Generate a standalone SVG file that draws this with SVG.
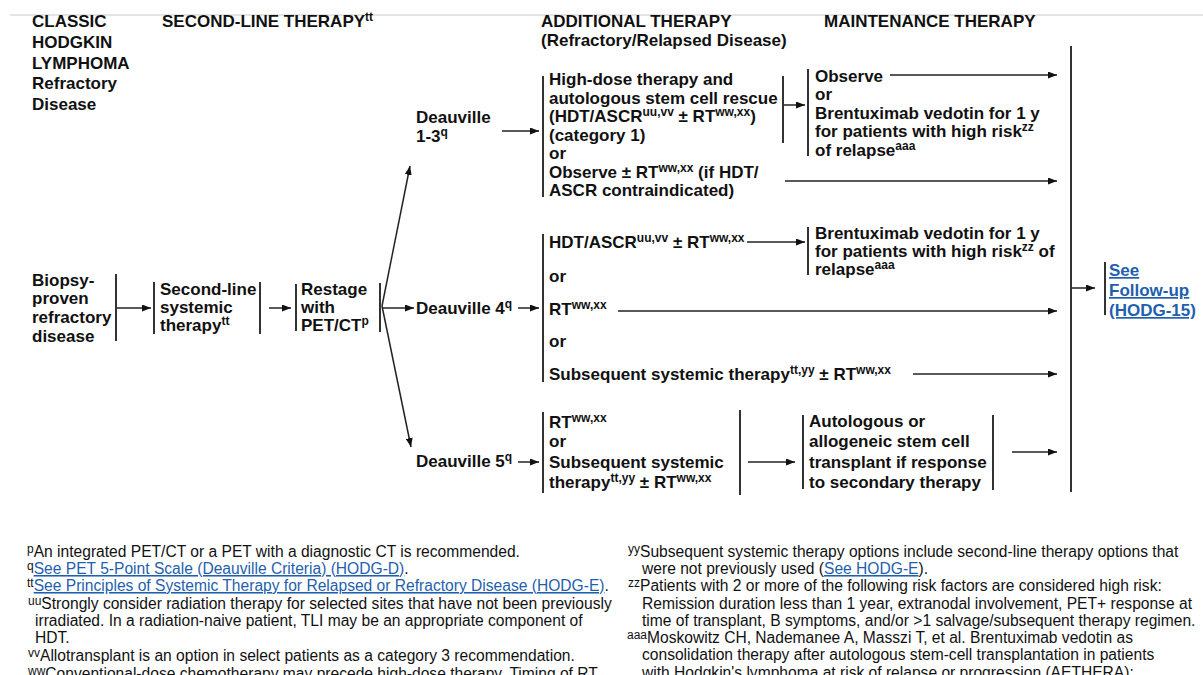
<svg xmlns="http://www.w3.org/2000/svg" width="1203" height="675" viewBox="0 0 1203 675">
<defs>
<marker id="ah" viewBox="0 0 10 10" refX="10" refY="5" markerWidth="9" markerHeight="7" markerUnits="userSpaceOnUse" orient="auto" preserveAspectRatio="none"><path d="M0,0 L10,5 L0,10 z" fill="#111"/></marker>
<style>
.t{font-family:"Liberation Sans",Arial,sans-serif;font-weight:bold;font-size:17px;fill:#111}
.f{font-family:"Liberation Sans",Arial,sans-serif;font-size:15.6px;fill:#111}
.s{font-size:12px}
.fs{font-size:12px}
.lk{fill:#1f5fad;text-decoration:underline}
.ln{stroke:#222;stroke-width:1.5;fill:none}
.ar{stroke:#222;stroke-width:1.5;fill:none;marker-end:url(#ah)}
.br{stroke:#333;stroke-width:2}
</style>
</defs>
<rect width="1203" height="675" fill="#fff"/>
<line x1="10" y1="15" x2="1203" y2="15" stroke="#dcdcdc" stroke-width="1.5"/>

<g id="headers" class="t">
<text x="32" y="27">CLASSIC</text>
<text x="32" y="48">HODGKIN</text>
<text x="32" y="69">LYMPHOMA</text>
<text x="32" y="89">Refractory</text>
<text x="32" y="110">Disease</text>
<text x="162" y="27">SECOND-LINE THERAPY<tspan class="s" dy="-6">tt</tspan></text>
<text x="541" y="27">ADDITIONAL THERAPY</text>
<text x="541" y="46">(Refractory/Relapsed Disease)</text>
<text x="824" y="27">MAINTENANCE THERAPY</text>
</g>

<g id="n_biopsy">
<text class="t" x="32" y="286">Biopsy-</text>
<text class="t" x="32" y="304">proven</text>
<text class="t" x="32" y="323">refractory</text>
<text class="t" x="32" y="342">disease</text>
<line class="br" x1="116" y1="274" x2="116" y2="341"/>
</g>

<g id="n_secondline">
<line class="br" x1="154" y1="282" x2="154" y2="334"/>
<text class="t" x="160" y="295">Second-line</text>
<text class="t" x="160" y="313">systemic</text>
<text class="t" x="160" y="331">therapy<tspan class="s" dy="-6">tt</tspan></text>
<line class="br" x1="260" y1="282" x2="260" y2="334"/>
</g>

<g id="n_restage">
<line class="br" x1="296" y1="284" x2="296" y2="331"/>
<text class="t" x="301" y="295">Restage</text>
<text class="t" x="301" y="313">with</text>
<text class="t" x="301" y="331">PET/CT<tspan class="s" dy="-6">p</tspan></text>
<line class="br" x1="380" y1="283" x2="380" y2="332"/>
</g>

<g id="n_d13">
<text class="t" x="416" y="123">Deauville</text>
<text class="t" x="416" y="142">1-3<tspan class="s" dy="-6">q</tspan></text>
</g>
<g id="n_d4">
<text class="t" x="416" y="314">Deauville 4<tspan class="s" dy="-6">q</tspan></text>
</g>
<g id="n_d5">
<text class="t" x="416" y="467">Deauville 5<tspan class="s" dy="-6">q</tspan></text>
</g>

<g id="n_add1">
<line class="br" x1="543" y1="76" x2="543" y2="197"/>
<text class="t" x="549" y="85">High-dose therapy and</text>
<text class="t" x="549" y="103.5">autologous stem cell rescue</text>
<text class="t" x="549" y="122">(HDT/ASCR<tspan class="s" dy="-6">uu,vv</tspan><tspan dy="6"> ± RT</tspan><tspan class="s" dy="-6">ww,xx</tspan><tspan dy="6">)</tspan></text>
<text class="t" x="549" y="140.5">(category 1)</text>
<text class="t" x="549" y="159">or</text>
<text class="t" x="549" y="177.5">Observe ± RT<tspan class="s" dy="-6">ww,xx</tspan><tspan dy="6"> (if HDT/</tspan></text>
<text class="t" x="549" y="196">ASCR contraindicated)</text>
<line class="br" x1="783" y1="76" x2="783" y2="143"/>
</g>

<g id="n_maint1">
<line class="br" x1="808" y1="69" x2="808" y2="156"/>
<text class="t" x="815" y="82">Observe</text>
<text class="t" x="815" y="100">or</text>
<text class="t" x="815" y="119">Brentuximab vedotin for 1 y</text>
<text class="t" x="815" y="137">for patients with high risk<tspan class="s" dy="-6">zz</tspan></text>
<text class="t" x="815" y="156">of relapse<tspan class="s" dy="-6">aaa</tspan></text>
</g>

<g id="n_add2">
<line class="br" x1="543" y1="234" x2="543" y2="382"/>
<text class="t" x="549" y="248">HDT/ASCR<tspan class="s" dy="-6">uu,vv</tspan><tspan dy="6"> ± RT</tspan><tspan class="s" dy="-6">ww,xx</tspan></text>
<text class="t" x="549" y="282">or</text>
<text class="t" x="549" y="315">RT<tspan class="s" dy="-6">ww,xx</tspan></text>
<text class="t" x="549" y="347">or</text>
<text class="t" x="549" y="380">Subsequent systemic therapy<tspan class="s" dy="-6">tt,yy</tspan><tspan dy="6"> ± RT</tspan><tspan class="s" dy="-6">ww,xx</tspan></text>
</g>

<g id="n_maint2">
<line class="br" x1="808" y1="227" x2="808" y2="275"/>
<text class="t" x="815" y="239">Brentuximab vedotin for 1 y</text>
<text class="t" x="815" y="257">for patients with high risk<tspan class="s" dy="-6">zz</tspan><tspan dy="6"> of</tspan></text>
<text class="t" x="815" y="275">relapse<tspan class="s" dy="-6">aaa</tspan></text>
</g>

<g id="n_add3">
<line class="br" x1="543" y1="412" x2="543" y2="493"/>
<text class="t" x="549" y="428">RT<tspan class="s" dy="-6">ww,xx</tspan></text>
<text class="t" x="549" y="447">or</text>
<text class="t" x="549" y="468">Subsequent systemic</text>
<text class="t" x="549" y="488">therapy<tspan class="s" dy="-6">tt,yy</tspan><tspan dy="6"> ± RT</tspan><tspan class="s" dy="-6">ww,xx</tspan></text>
<line class="br" x1="740" y1="410" x2="740" y2="495"/>
</g>

<g id="n_transplant">
<line class="br" x1="803" y1="415" x2="803" y2="489"/>
<text class="t" x="809" y="427">Autologous or</text>
<text class="t" x="809" y="447">allogeneic stem cell</text>
<text class="t" x="809" y="468">transplant if response</text>
<text class="t" x="809" y="488">to secondary therapy</text>
<line class="br" x1="993" y1="415" x2="993" y2="490"/>
</g>

<g id="n_collector">
<line class="br" x1="1071" y1="46" x2="1071" y2="492"/>
</g>

<g id="n_followup">
<line class="br" x1="1105" y1="262" x2="1105" y2="315"/>
<text class="t lk" x="1109" y="276">See</text>
<text class="t lk" x="1109" y="296">Follow-up</text>
<text class="t lk" x="1109" y="316">(HODG-15)</text>
</g>

<g id="connectors">
<line class="ar" x1="117" y1="308" x2="151" y2="308"/>
<line class="ar" x1="269" y1="308" x2="291" y2="308"/>
<line class="ar" x1="382" y1="306" x2="410" y2="166"/>
<line class="ar" x1="382" y1="306" x2="411" y2="447"/>
<line class="ar" x1="382" y1="308" x2="414" y2="308"/>
<line class="ar" x1="502" y1="131" x2="539" y2="131"/>
<line class="ar" x1="518" y1="308" x2="539" y2="308"/>
<line class="ar" x1="518" y1="462" x2="539" y2="462"/>
<line class="ar" x1="784" y1="105" x2="805" y2="105"/>
<line class="ar" x1="890" y1="75" x2="1057" y2="75"/>
<line class="ar" x1="785" y1="181" x2="1057" y2="181"/>
<line class="ar" x1="747" y1="242" x2="805" y2="242"/>
<line class="ar" x1="618" y1="311" x2="1057" y2="311"/>
<line class="ar" x1="913" y1="374" x2="1057" y2="374"/>
<line class="ar" x1="748" y1="462" x2="795" y2="462"/>
<line class="ar" x1="1012" y1="452" x2="1057" y2="452"/>
<line class="ar" x1="1072" y1="288" x2="1095" y2="288"/>
</g>

<g id="footnotes" class="f">
<text x="27" y="557"><tspan class="fs" dy="-4">p</tspan><tspan dy="4">An integrated PET/CT or a PET with a diagnostic CT is recommended.</tspan></text>
<text x="27" y="574"><tspan class="fs" dy="-4">q</tspan><tspan dy="4" class="lk">See PET 5-Point Scale (Deauville Criteria) (HODG-D)</tspan>.</text>
<text x="27" y="591"><tspan class="fs" dy="-4">tt</tspan><tspan dy="4" class="lk">See Principles of Systemic Therapy for Relapsed or Refractory Disease (HODG-E)</tspan>.</text>
<text x="28" y="609"><tspan class="fs" dy="-4">uu</tspan><tspan dy="4">Strongly consider radiation therapy for selected sites that have not been previously</tspan></text>
<text x="35" y="626">irradiated. In a radiation-naive patient, TLI may be an appropriate component of</text>
<text x="35" y="643">HDT.</text>
<text x="28" y="661"><tspan class="fs" dy="-4">vv</tspan><tspan dy="4">Allotransplant is an option in select patients as a category 3 recommendation.</tspan></text>
<text x="28" y="679"><tspan class="fs" dy="-4">ww</tspan><tspan dy="4">Conventional-dose chemotherapy may precede high-dose therapy. Timing of RT</tspan></text>

<text x="628" y="557"><tspan class="fs" dy="-4">yy</tspan><tspan dy="4">Subsequent systemic therapy options include second-line therapy options that</tspan></text>
<text x="642" y="574">were not previously used (<tspan class="lk">See HODG-E</tspan>).</text>
<text x="628" y="591"><tspan class="fs" dy="-4">zz</tspan><tspan dy="4">Patients with 2 or more of the following risk factors are considered high risk:</tspan></text>
<text x="642" y="609">Remission duration less than 1 year, extranodal involvement, PET+ response at</text>
<text x="642" y="626">time of transplant, B symptoms, and/or &gt;1 salvage/subsequent therapy regimen.</text>
<text x="627" y="643"><tspan class="fs" dy="-4">aaa</tspan><tspan dy="4">Moskowitz CH, Nademanee A, Masszi T, et al. Brentuximab vedotin as</tspan></text>
<text x="642" y="660">consolidation therapy after autologous stem-cell transplantation in patients</text>
<text x="642" y="678">with Hodgkin's lymphoma at risk of relapse or progression (AETHERA):</text>
</g>
</svg>
